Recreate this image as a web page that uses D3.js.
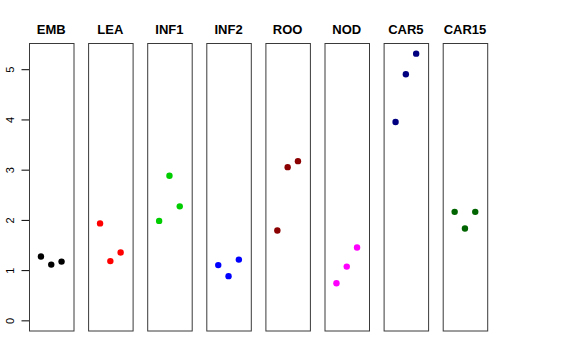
<!DOCTYPE html>
<html>
<head>
<meta charset="utf-8">
<script src="https://cdn.jsdelivr.net/npm/d3@7"></script>
<style>
	body { margin: 0; background: #fff; }
	svg { display: block; font-family: "Liberation Sans", Arial, Helvetica, sans-serif; }
</style>
</head>
<body>
<script>
// one panel per tissue, three replicates each
var tissues = ["EMB", "LEA", "INF1", "INF2", "ROO", "NOD", "CAR5", "CAR15"];
var colours = ["#000000", "#ff0000", "#00cd00", "#0000ff", "#8b0000", "#ff00ff", "#000080", "#006400"];
var rep1 = [1.27, 1.93, 1.98, 1.10, 1.79, 0.74, 3.95, 2.16];
var rep2 = [1.11, 1.18, 2.88, 0.88, 3.05, 1.07, 4.90, 1.83];
var rep3 = [1.17, 1.35, 2.27, 1.21, 3.17, 1.45, 5.31, 2.16];
var yTicks = [0, 1, 2, 3, 4, 5];

function generateViz() {
	var width = 576,
		height = 360;

	var top = 43.5, bottom = 331,
		firstLeft = 29, pitch = 59.1, panelW = 44.5;

	var svg = d3.select("body")
				.append("svg")
				.attr("width", width)
				.attr("height", height);

	// ylim 0..5.3 plus R's 4% padding
	var y = d3.scaleLinear()
			.domain([-0.212, 5.512])
			.range([bottom, top]);

	var x = d3.scaleLinear()
			.domain([-0.16, 4.16])
			.range([0, panelW]);

	// y axis on the first panel only
	var yAxis = d3.axisLeft(y)
				.tickValues(yTicks)
				.tickSize(7.5)
				.tickFormat(d3.format("d"));

	var ax = svg.append("g")
			.attr("transform", "translate(" + firstLeft + ",0)")
			.call(yAxis);
	ax.select(".domain")
		.attr("d", "M0.5," + y(0) + "V" + y(5))
		.attr("stroke", "#000");
	ax.selectAll(".tick line").attr("stroke", "#000");
	// labels turned on their side, like R's las=0
	ax.selectAll(".tick text")
		.attr("font-size", 11)
		.attr("fill", "#000")
		.attr("text-anchor", "middle")
		.attr("x", 0)
		.attr("y", -15.5)
		.attr("dy", "0em")
		.attr("transform", "rotate(-90)");

	tissues.forEach(function(name, i) {
		var left = firstLeft + i * pitch;
		var g = svg.append("g")
				.attr("transform", "translate(" + left + ",0)");

		g.append("rect")
			.attr("x", 0.5)
			.attr("y", top)
			.attr("width", panelW)
			.attr("height", bottom - top)
			.attr("fill", "none")
			.attr("stroke", "#3a3a3a")
			.attr("stroke-width", 1);

		g.append("text")
			.attr("x", panelW / 2)
			.attr("y", 33.5)
			.attr("text-anchor", "middle")
			.attr("font-weight", "bold")
			.attr("font-size", 13)
			.text(name);

		var vals = [rep1[i], rep2[i], rep3[i]];
		g.selectAll("circle")
			.data(vals)
			.enter()
			.append("circle")
			.attr("cx", function(d, j) { return x(j + 1); })
			.attr("cy", function(d) { return y(d); })
			.attr("r", 3.2)
			.attr("fill", colours[i]);
	});
} // generateViz()

generateViz();
</script>
</body>
</html>
